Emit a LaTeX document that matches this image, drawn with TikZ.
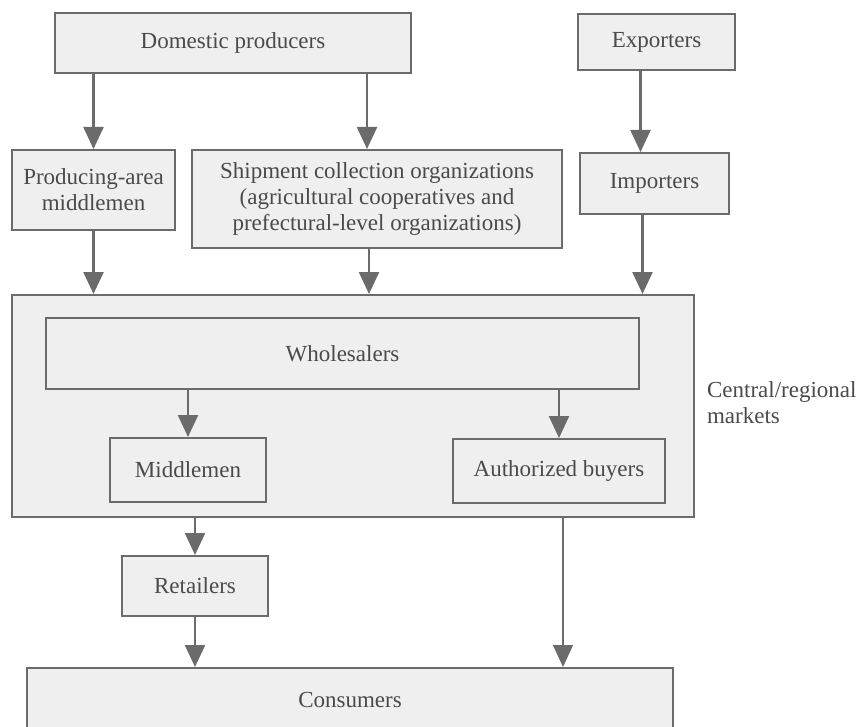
\documentclass[tikz,border=0pt]{standalone}
\usepackage{fontspec}
\setmainfont{Liberation Serif}
\usetikzlibrary{arrows.meta}
\definecolor{boxline}{HTML}{6B6B6B}
\definecolor{boxfill}{HTML}{EFEFEF}
\definecolor{inktext}{HTML}{4A4A4A}
\begin{document}
\begin{tikzpicture}[x=0.5pt, y=-0.5pt,
        every node/.style = {font=\fontsize{11.5}{13}\selectfont, text=inktext},
        box/.style = {draw=boxline, fill=boxfill, line width=1pt, align=center, inner sep=2pt},
        flow/.style = {draw=boxline, line width=1.2pt, -{Triangle[width=10pt,length=11pt]}},
        thinflow/.style = {flow, line width=0.6pt}]
    \useasboundingbox (0,0) rectangle (861,727);
    \clip (0,0) rectangle (861,727);
    \node[box, minimum width=178pt, minimum height=30pt] (dom) at (233,43) {Domestic producers};
    \node[box, minimum width=78.5pt, minimum height=28pt] (exp) at (656.5,42) {Exporters};
    \node[box, minimum width=81.5pt, minimum height=40pt] (pam) at (93.5,190) {
        Producing-area \\
        middlemen
    };
    \node[box, minimum width=185pt, minimum height=49pt] (ship) at (377,199) {
        Shipment collection organizations \\
        (agricultural cooperatives and \\
        prefectural-level organizations)
    };
    \node[box, minimum width=74.5pt, minimum height=30.5pt] (imp) at (654.5,183.5) {Importers};
    \node[box, minimum width=341pt, minimum height=111pt] (mkt) at (353,406) {};
    \node[box, minimum width=296.5pt, minimum height=35.5pt] (whole) at (342.5,353.5) {Wholesalers};
    \node[box, minimum width=78pt, minimum height=32pt] (mid) at (188,470) {Middlemen};
    \node[box, minimum width=106pt, minimum height=32pt] (auth) at (559,471) {Authorized buyers};
    \node[anchor=west, align=left] (mktlabel) at (700,403) {
        Central/regional \\
        markets
    };
    \node[box, minimum width=73pt, minimum height=30pt] (ret) at (195,586) {Retailers};
    \node[box, minimum width=323pt, minimum height=32pt] (cons) at (350,700) {Consumers};
    \draw[flow] (dom.south -| pam.north) -- (pam.north);
    \draw[flow] ([xshift=-5pt]ship.north |- dom.south) -- ([xshift=-5pt]ship.north);
    \draw[flow] ([xshift=-7pt]imp.north |- exp.south) -- ([xshift=-7pt]imp.north);
    \draw[flow] (pam.south) -- (pam.south |- mkt.north);
    \draw[flow] ([xshift=-4pt]ship.south) -- ([xshift=-4pt]ship.south |- mkt.north);
    \draw[flow] ([xshift=-6pt]imp.south) -- ([xshift=-6pt]imp.south |- mkt.north);
    \draw[flow] (whole.south -| mid.north) -- (mid.north);
    \draw[flow] (whole.south -| auth.north) -- (auth.north);
    \draw[flow] (mkt.south -| ret.north) -- (ret.north);
    \draw[flow] (ret.south) -- (ret.south |- cons.north);
    \draw[thinflow] ([xshift=2pt]auth.south |- mkt.south) -- ([xshift=2pt]auth.south |- cons.north);
\end{tikzpicture}
\end{document}
